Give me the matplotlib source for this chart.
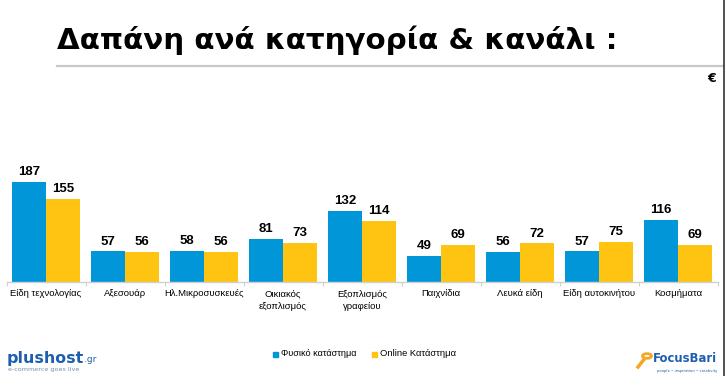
import matplotlib.pyplot as plt
from matplotlib.lines import Line2D
from matplotlib.patches import Rectangle, Circle
import numpy as np

categories = ["Είδη τεχνολογίας", "Αξεσουάρ", "Ηλ.Μικροσυσκευές", "Οικιακός\nεξοπλισμός",
              "Εξοπλισμός\nγραφείου", "Παιχνίδια", "Λευκά είδη", "Είδη αυτοκινήτου", "Κοσμήματα"]
physical = [187, 57, 58, 81, 132, 49, 56, 57, 116]
online = [155, 56, 56, 73, 114, 69, 72, 75, 69]
series_names = ["Φυσικό κατάστημα", "Online Κατάστημα"]

BLUE = "#0096d8"
YELLOW = "#ffc412"
LOGO = "#1d5fae"
SANS = ["Liberation Sans", "DejaVu Sans"]

fig = plt.figure(figsize=(7.28, 3.76), dpi=100)
W, H = 728, 376
renderer = fig.canvas.get_renderer()


def fit(t, width_px):
    # scale a text so it spans the same width as in the reference
    bb = t.get_window_extent(renderer)
    t.set_fontsize(t.get_fontsize() * width_px / bb.width)


# title
title = fig.text(57 / W, 1 - 40 / H, "Δαπάνη ανά κατηγορία & κανάλι :", fontsize=23,
                 fontweight="bold", family="DejaVu Sans",
                 ha="left", va="center", color="black")
fit(title, 561)
fig.add_artist(Line2D([57 / W, 723 / W], [1 - 66 / H, 1 - 66 / H], color="#c8c8c8", lw=1.6))
fig.text(712 / W, 1 - 78 / H, "€", fontsize=9, fontweight="bold", ha="center", va="center")
fig.add_artist(Line2D([724 / W, 724 / W], [0, 1], color="#333333", lw=1.2))

ax = fig.add_axes([6.5 / W, 94 / H, 711 / W, 107.4 / H])
x = np.arange(len(categories))
w = 0.43
b1 = ax.bar(x - w / 2, physical, w, color=BLUE)
b2 = ax.bar(x + w / 2, online, w, color=YELLOW)
for bars, vals in [(b1, physical), (b2, online)]:
    for r, v in zip(bars, vals):
        ax.text(r.get_x() + r.get_width() / 2, v + 7, str(v), ha="center", va="bottom",
                fontsize=9.5, fontweight="bold", family=SANS)

ax.set_xlim(-0.5, len(categories) - 0.5)
ax.set_ylim(0, 200)
ax.set_yticks([])
for s in ["top", "right", "left"]:
    ax.spines[s].set_visible(False)
ax.spines["bottom"].set_color("#d0d0d0")
ax.spines["bottom"].set_linewidth(1.0)
ax.set_xticks(np.arange(len(categories) + 1) - 0.5)
ax.set_xticklabels([])
ax.tick_params(axis="x", length=3, color="#d0d0d0")
lbl = []
for i, c in enumerate(categories):
    lbl.append(ax.text(i, -27, c, ha="center", va="baseline", fontsize=7,
                       family=SANS, linespacing=1.45))
# first label is about 71 px wide in the reference
bb = lbl[0].get_window_extent(renderer)
scale = 71 / bb.width
for t in lbl:
    t.set_fontsize(7 * scale)
for t, c in zip(lbl, categories):
    if "\n" in c:
        t.set_va("top")
        t.set_y(-14)

# legend
ly = 1 - 354 / H
fig.add_artist(Rectangle((273 / W, ly - 2.5 / H), 5 / W, 5 / H, color=BLUE))
l1 = fig.text(281 / W, ly, series_names[0], fontsize=7, family=SANS, va="center")
fit(l1, 76)
fig.add_artist(Rectangle((372 / W, ly - 2.5 / H), 5 / W, 5 / H, color=YELLOW))
l2 = fig.text(380 / W, ly, series_names[1], fontsize=7, family=SANS, va="center")
fit(l2, 76)

# logos as text
p = fig.text(7 / W, 1 - 358 / H, "plushost", fontsize=13, fontweight="bold", color=LOGO,
             va="center", ha="left")
fit(p, 76)
fig.text(84 / W, 1 - 360 / H, ".gr", fontsize=6.5, color=LOGO, va="center", ha="left")
s1 = fig.text(8 / W, 1 - 369 / H, "e-commerce goes live", fontsize=3, color="#7a8fa8",
              va="center", ha="left")
fit(s1, 70)
fig.add_artist(Circle((647 / W, 1 - 356 / H), 4.5 / W, fill=False, ec="#f5a623", lw=2))
fig.add_artist(Line2D([643.5 / W, 638 / W], [1 - 360 / H, 1 - 367 / H], color="#f5a623", lw=2.5))
f = fig.text(653 / W, 1 - 358 / H, "FocusBari", fontsize=11, fontweight="bold", color=LOGO,
             va="center", ha="left")
fit(f, 64)
s2 = fig.text(717 / W, 1 - 371 / H, "people • inspiration • creativity", fontsize=2.5,
              color=LOGO, va="center", ha="right")
fit(s2, 62)

fig.savefig("out.png", dpi=100)
